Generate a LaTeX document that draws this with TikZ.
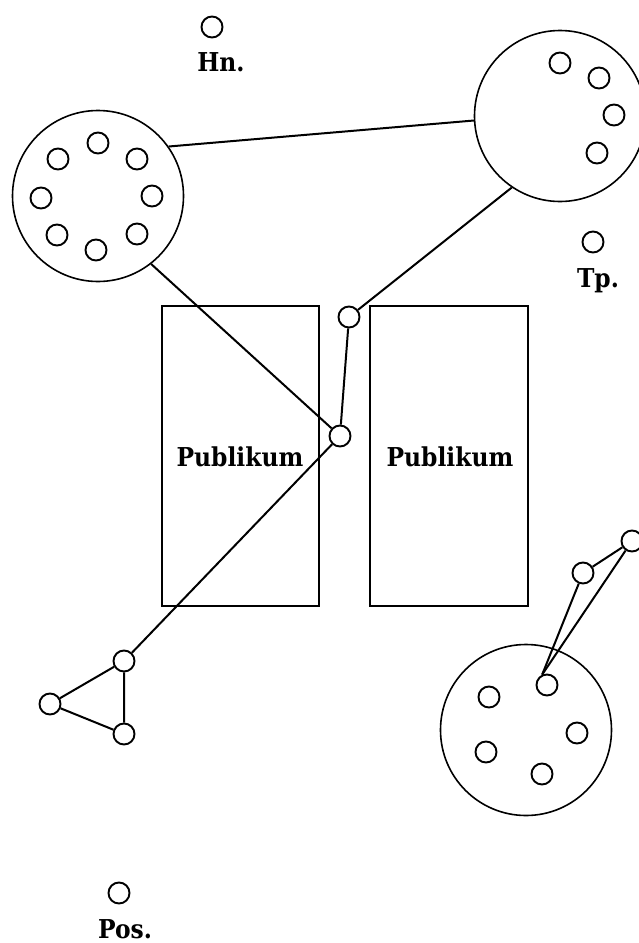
\documentclass[tikz,border=0pt]{standalone}
\usepackage{fontspec}
\setmainfont[FakeStretch=0.9]{DejaVu Serif}
\begin{document}
\begin{tikzpicture}[x=1pt,y=-1pt,
  dot/.style={circle,draw,line width=1.9pt,minimum size=21pt,inner sep=0pt},
  group/.style={circle,draw,line width=1.6pt,minimum size=171pt,inner sep=0pt},
  hall/.style={draw,line width=2.4pt},
  link/.style={line width=2pt},
  lbl/.style={font=\bfseries\fontsize{26}{30}\selectfont,anchor=base,inner sep=0pt}]
\useasboundingbox (0,0) rectangle (638,943);
% big groups
\node[group] (L) at (98,196) {};
\node[group] (R) at (560,116) {};
\node[group] (S) at (526,730) {};
% dots in L
\foreach \i/\x/\y in {1/98/143,2/137/159,3/152/196,4/137/234,5/96/250,6/57/235,7/41/198,8/58/159}
  \node[dot] (l\i) at (\x,\y) {};
% dots in R
\foreach \i/\x/\y in {1/560/63,2/599/78,3/614/115,4/597/153}
  \node[dot] (r\i) at (\x,\y) {};
% dots in S
\node[dot] (d) at (547,685) {};
\foreach \i/\x/\y in {1/489/697,2/577/733,3/486/752,4/542/774}
  \node[dot] (s\i) at (\x,\y) {};
% single dots with labels
\node[dot] (hn) at (212,27) {};
\node[lbl] (hnl) at (221,71) {Hn.};
\node[dot] (tp) at (593,242) {};
\node[lbl] (tpl) at (598,287) {Tp.};
\node[dot] (pos) at (119,893) {};
\node[lbl] (posl) at (125,938) {Pos.};
% rectangles
\draw[hall] (162,306) rectangle (319,606);
\draw[hall] (370,306) rectangle (528,606);
\node[lbl] (p1) at (240,466) {Publikum};
\node[lbl] (p2) at (450,466) {Publikum};
% connector dots
\node[dot] (a) at (349,317) {};
\node[dot] (b) at (340,436) {};
\node[dot] (t1) at (124,661) {};
\node[dot] (t2) at (50,704) {};
\node[dot] (t3) at (124,734) {};
\node[dot] (c1) at (583,573) {};
\node[dot] (c2) at (632,541) {};
% connectors
\draw[link] (L.35) -- (R.183);
\draw[link] (R.-124) -- (a);
\draw[link] (a) -- (b);
\draw[link] (L.-52) -- (b);
\draw[link] (b) -- (t1);
\draw[link] (t1) -- (t2) -- (t3) -- (t1);
\draw[link] (c1) -- (c2);
\draw[link] (c1) -- (d.115);
\draw[link] (c2) -- (d.115);
\end{tikzpicture}
\end{document}
